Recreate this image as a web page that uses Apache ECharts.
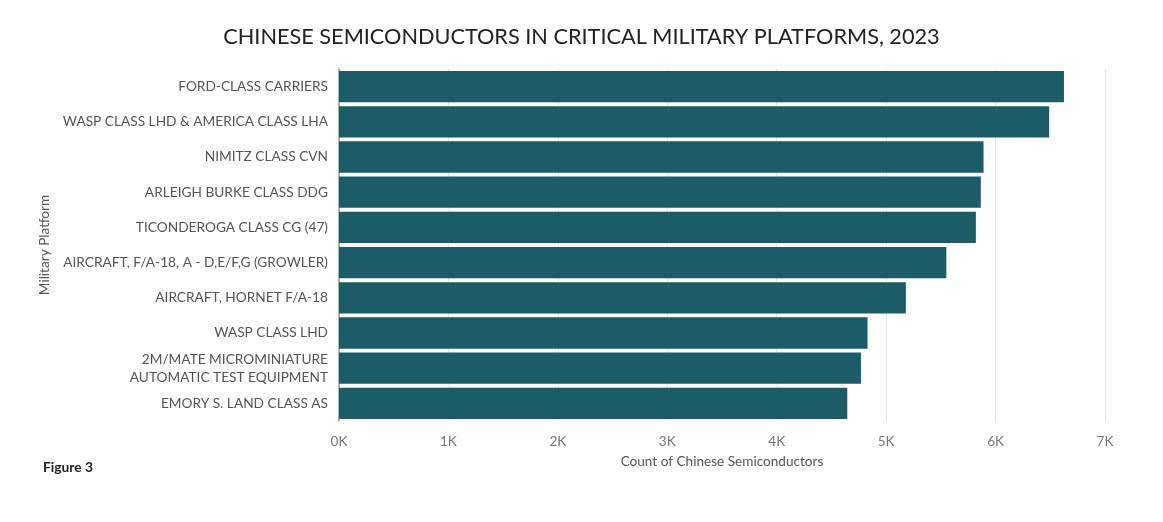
<!DOCTYPE html>
<html>
<head>
<meta charset="utf-8">
<script src="https://cdn.jsdelivr.net/npm/echarts@6/dist/echarts.min.js"></script>
<style>
  html, body { margin: 0; padding: 0; background: #fff; }
  #chart { width: 1163px; height: 522px; }
</style>
</head>
<body>
<div id="chart"></div>
<script>
// platforms, top to bottom as in the figure
var platforms = [
  'FORD-CLASS CARRIERS',
  'WASP CLASS LHD & AMERICA CLASS LHA',
  'NIMITZ CLASS CVN',
  'ARLEIGH BURKE CLASS DDG',
  'TICONDEROGA CLASS CG (47)',
  'AIRCRAFT, F/A-18, A - D,E/F,G (GROWLER)',
  'AIRCRAFT, HORNET F/A-18',
  'WASP CLASS LHD',
  '2M/MATE MICROMINIATURE\nAUTOMATIC TEST EQUIPMENT',
  'EMORY S. LAND CLASS AS'
];
var counts = [6625, 6490, 5890, 5865, 5820, 5550, 5180, 4830, 4770, 4645];
var xTicks = [0, 1000, 2000, 3000, 4000, 5000, 6000, 7000];

var font = 'Lato, "Open Sans", sans-serif';
var myChart = echarts.init(document.getElementById('chart'));

var option = {
  animation: false,
  title: [{
    text: 'CHINESE SEMICONDUCTORS IN CRITICAL MILITARY PLATFORMS, 2023',
    left: 'center',
    top: 21,
    textStyle: { fontFamily: font, fontSize: 21.7, fontWeight: 'normal', color: '#222' }
  }, {
    text: 'Figure 3',
    left: 38,
    top: 456,
    textStyle: { fontFamily: font, fontSize: 13.8, fontWeight: 'bold', color: '#222' }
  }],
  grid: { left: 339, right: 58, top: 69, bottom: 101 },
  xAxis: {
    type: 'value',
    min: xTicks[0],
    max: xTicks[xTicks.length - 1],
    interval: 1000,
    name: 'Count of Chinese Semiconductors',
    nameLocation: 'middle',
    nameGap: 34,
    nameTextStyle: { fontFamily: font, fontSize: 13.6, color: '#555' },
    axisLine: { show: false },
    axisTick: { show: false },
    axisLabel: {
      fontFamily: font, fontSize: 13.6, color: '#777', margin: 14,
      formatter: function (v) { return (v / 1000) + 'K'; }
    },
    splitLine: { show: true, lineStyle: { color: '#e6e6e6', width: 1 } }
  },
  yAxis: {
    type: 'category',
    data: platforms,
    inverse: true,
    name: 'Military Platform',
    nameLocation: 'middle',
    nameGap: 281,
    nameRotate: 90,
    nameTextStyle: { fontFamily: font, fontSize: 13.6, color: '#555' },
    axisLine: { show: true, lineStyle: { color: '#999', width: 1.5 } },
    axisTick: { show: false },
    axisLabel: { fontFamily: font, fontSize: 13.7, color: '#555', margin: 11, lineHeight: 18 }
  },
  series: [{
    type: 'bar',
    data: counts,
    barCategoryGap: '11%',
    itemStyle: { color: '#1b5c66' }
  }]
};

myChart.setOption(option);
</script>
</body>
</html>
